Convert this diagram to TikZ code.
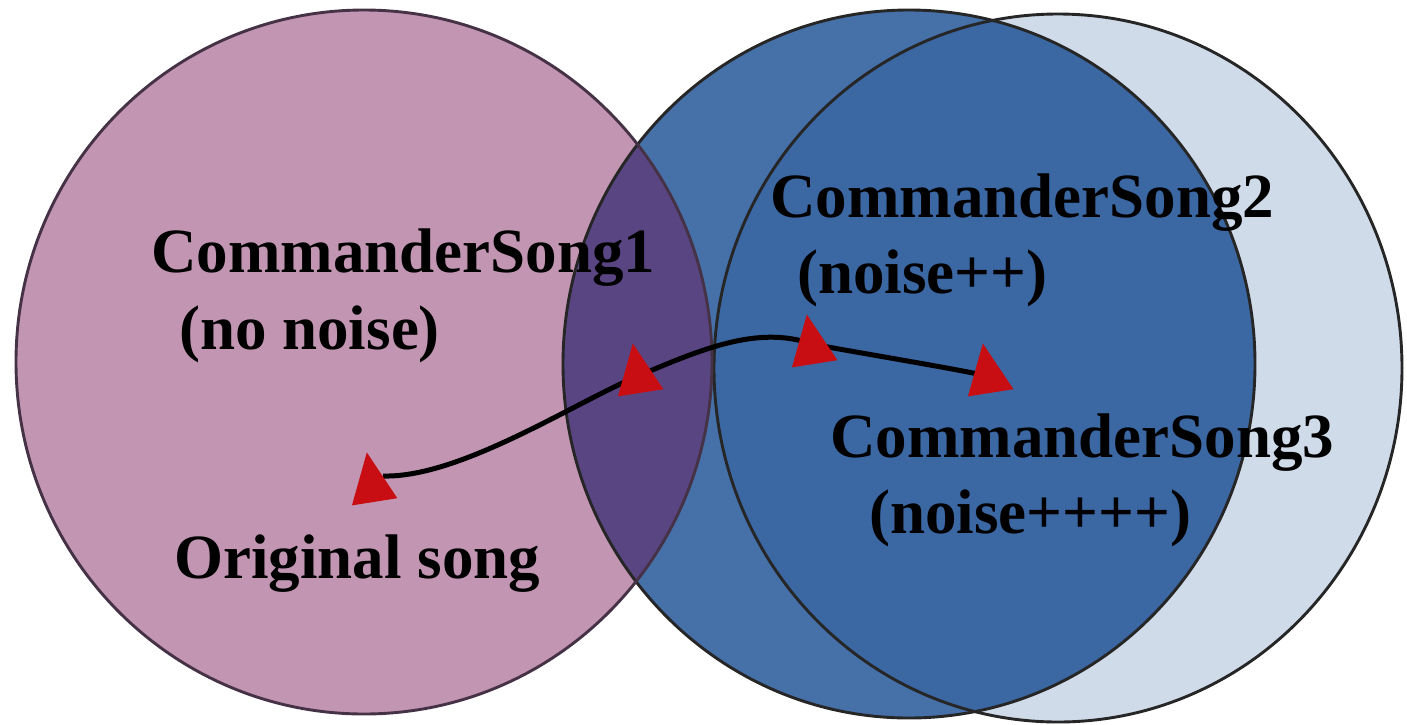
\documentclass[tikz,border=0pt]{standalone}
\usepackage{fontspec}
\setmainfont{Liberation Serif}
\definecolor{pinkfill}{RGB}{194,150,178}
\definecolor{bluefill}{RGB}{70,112,168}
\definecolor{bluedeep}{RGB}{59,103,163}
\definecolor{lightfill}{RGB}{208,219,233}
\definecolor{purplefill}{RGB}{90,69,131}
\definecolor{pinkedge}{RGB}{70,50,70}
\definecolor{markred}{RGB}{200,14,18}
\tikzset{
  edge/.style={line width=2.9pt, draw=black!85},
  songpath/.style={line width=5pt, black},
  label/.style={anchor=base west, inner sep=0pt, text=black,
    font=\bfseries\fontsize{63}{76}\selectfont},
  marker/.pic={\fill[markred, rotate=9] (0,-33) -- (-23,17) -- (23,17) -- cycle;}
}
\begin{document}
\begin{tikzpicture}[x=1pt, y=-1pt]
\useasboundingbox (0,0) rectangle (1407,724);
% sets: original (left), noise++ (middle), noise++++ (right)
\def\leftset{(364,362) ellipse [x radius=348, y radius=352]}
\def\midset{(909,364) ellipse [x radius=346, y radius=354]}
\def\rightset{(1058,368) ellipse [x radius=344, y radius=354]}
% fills
\fill[lightfill] \rightset;
\fill[bluefill] \midset;
\begin{scope}
  \clip \rightset;
  \fill[bluedeep] \midset;
\end{scope}
\fill[pinkfill] \leftset;
\begin{scope}
  \clip \midset;
  \fill[purplefill] \leftset;
\end{scope}
% outlines
\draw[edge] \rightset;
\draw[edge] \midset;
\draw[edge, draw=pinkedge] \leftset;
% markers along the path
\coordinate (m1) at (372,485);
\coordinate (m2) at (638,376);
\coordinate (m3) at (812,344);
\coordinate (m4) at (988,376);
\draw[songpath] ([shift={(11,-9)}]m1)
  .. controls +(77,2) and +(-64,27) .. (m2)
  .. controls +(64,-27) and +(-54,-19) .. (m3)
  .. controls +(30,6) and +(-48,-10) .. (m4);
\pic at (m1) {marker};
\pic at (m2) {marker};
\pic at ([yshift=-3pt]m3) {marker};
\pic at (m4) {marker};
% labels
\node[label] (cs1) at (151,272) {CommanderSong1};
\node[label] (cs1n) at (179,349) {(no noise)};
\node[label] (orig) at (174,578) {Original song};
\node[label] (cs2) at (770,217) {CommanderSong2};
\node[label] (cs2n) at (797,293) {(noise++)};
\node[label] (cs3) at (830,457) {CommanderSong3};
\node[label] (cs3n) at (869,533) {(noise++++)};
\end{tikzpicture}
\end{document}
